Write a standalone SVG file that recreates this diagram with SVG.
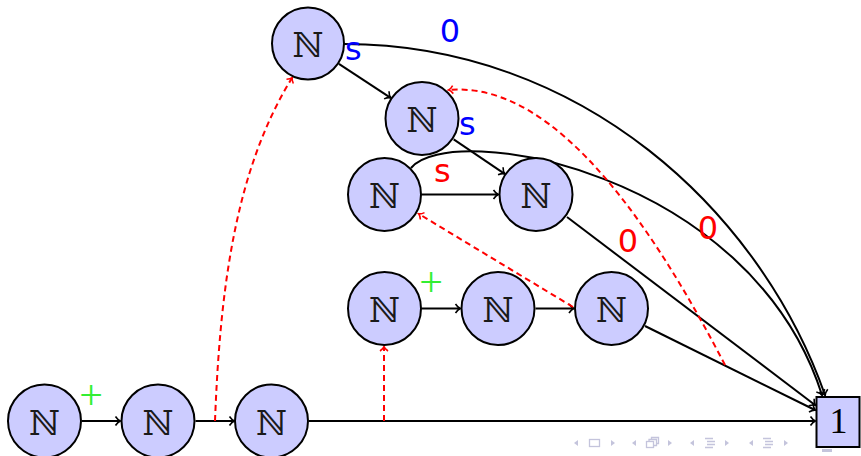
<svg xmlns="http://www.w3.org/2000/svg" width="861" height="456" viewBox="0 0 861 456">
<style>
.node{fill:#ccccff;stroke:#000;stroke-width:2}
.nt{font-family:"DejaVu Serif","DejaVu Sans",serif;font-size:34px;text-anchor:middle;fill:#1a1a1a}
.e{fill:none;stroke:#000;stroke-width:2}
.d{fill:none;stroke:#ff0000;stroke-width:2;stroke-dasharray:6 4}
.lab{font-family:"DejaVu Sans",sans-serif;font-size:32px}
.plus{font-family:"Liberation Serif",serif;font-size:42px;fill:#33ee33;text-anchor:middle}
.nav{fill:#c4c4dc;stroke:none}
.navs{fill:none;stroke:#c4c4dc;stroke-width:1.3}
</style>
<defs>
<marker id="ah" viewBox="-6 -6 8 12" refX="0" refY="0" markerWidth="8" markerHeight="12" markerUnits="userSpaceOnUse" orient="auto">
<path d="M-4.5,-4.5 C-2.5,-1.5 -0.5,-0.3 0.5,0 C-0.5,0.3 -2.5,1.5 -4.5,4.5" fill="none" stroke="#000" stroke-width="1.6"/>
</marker>
<marker id="ahr" viewBox="-6 -6 8 12" refX="0" refY="0" markerWidth="8" markerHeight="12" markerUnits="userSpaceOnUse" orient="auto">
<path d="M-4,-4 C-2.2,-1.3 -0.5,-0.3 0.5,0 C-0.5,0.3 -2.2,1.3 -4,4" fill="none" stroke="#ff0000" stroke-width="1.6"/>
</marker>
</defs>
<rect width="861" height="456" fill="#fff"/>
<g id="connectors">
<path class="e" d="M338.9,63.8 L390.3,97.6" marker-end="url(#ah)"/>
<path class="e" d="M453.7,139.4 L504.3,173.6" marker-end="url(#ah)"/>
<path class="e" d="M421.5,194.5 L498,194.5" marker-end="url(#ah)"/>
<path class="e" d="M421.5,308.5 L460,308.5" marker-end="url(#ah)"/>
<path class="e" d="M535.5,308.5 L573.5,308.5" marker-end="url(#ah)"/>
<path class="e" d="M82,421 L120,421" marker-end="url(#ah)"/>
<path class="e" d="M195.5,421 L234,421" marker-end="url(#ah)"/>
<path class="e" d="M309,421 L815,421" marker-end="url(#ah)"/>
<path class="e" d="M344,44 C580,44 760,210 825,395" marker-end="url(#ah)"/>
<path class="e" d="M411,168 C450,120 750,170 822,395" marker-end="url(#ah)"/>
<path class="e" d="M567,217 L815,405" marker-end="url(#ah)"/>
<path class="e" d="M645,326 L815,410" marker-end="url(#ah)"/>
<path class="d" d="M215,421 C220,290 235,170 292,78" marker-end="url(#ahr)"/>
<path class="d" d="M384,421 L384,347" marker-end="url(#ahr)"/>
<path class="d" d="M573,307 L419,214" marker-end="url(#ahr)"/>
<path class="d" d="M725,365 C660,240 560,80 449,90" marker-end="url(#ahr)"/>
</g>
<g id="nA"><circle class="node" cx="308" cy="43.5" r="36"/><text class="nt" x="308" y="57">ℕ</text></g>
<g id="nB"><circle class="node" cx="422" cy="118.5" r="36.5"/><text class="nt" x="422" y="132">ℕ</text></g>
<g id="nC"><circle class="node" cx="384.5" cy="194.5" r="36.5"/><text class="nt" x="384.5" y="208">ℕ</text></g>
<g id="nD"><circle class="node" cx="536" cy="194.5" r="36.5"/><text class="nt" x="536" y="208">ℕ</text></g>
<g id="nE"><circle class="node" cx="384.5" cy="308.5" r="36.5"/><text class="nt" x="384.5" y="322">ℕ</text></g>
<g id="nF"><circle class="node" cx="498" cy="308.5" r="36.5"/><text class="nt" x="498" y="322">ℕ</text></g>
<g id="nG"><circle class="node" cx="611.5" cy="308.5" r="36.5"/><text class="nt" x="611.5" y="322">ℕ</text></g>
<g id="nH"><circle class="node" cx="44.5" cy="421" r="36.5"/><text class="nt" x="44.5" y="434.5">ℕ</text></g>
<g id="nI"><circle class="node" cx="158" cy="421" r="36.5"/><text class="nt" x="158" y="434.5">ℕ</text></g>
<g id="nJ"><circle class="node" cx="271.5" cy="421" r="36.5"/><text class="nt" x="271.5" y="434.5">ℕ</text></g>
<g id="n1"><rect class="node" x="816.5" y="397" width="43" height="50"/><text x="838.5" y="433" style="font-family:'Liberation Serif',serif;font-size:36px;text-anchor:middle;fill:#000">1</text></g>
<g id="labels">
<text class="lab" x="345" y="60" fill="#0000ff">s</text>
<text class="lab" x="459" y="135" fill="#0000ff">s</text>
<text class="lab" x="450" y="42" fill="#0000ff" text-anchor="middle">0</text>
<text class="lab" x="434" y="182" fill="#ff0000">s</text>
<text class="lab" x="628" y="252" fill="#ff0000" text-anchor="middle">0</text>
<text class="lab" x="708" y="239" fill="#ff0000" text-anchor="middle">0</text>
<text class="plus" x="91" y="409">+</text>
<text class="plus" x="431" y="296">+</text>
</g>
<g id="navigation">
<path class="nav" d="M578,440 L574,443 L578,446 Z"/>
<rect class="navs" x="589.5" y="439.5" width="10" height="7"/>
<path class="nav" d="M611,440 L615,443 L611,446 Z"/>
<path class="nav" d="M636,440 L632,443 L636,446 Z"/>
<rect class="navs" x="646.5" y="441.5" width="7" height="6"/>
<path class="navs" d="M649,441.5 V439.5 H656.5 V445.5 H653.5 M651.5,439.5 V437.5 H658.5 V443.5 H656.5"/>
<path class="nav" d="M668,440 L672,443 L668,446 Z"/>
<path class="nav" d="M694,440 L690,443 L694,446 Z"/>
<path class="navs" d="M705,438.5 H713 M707,441.5 H715 M707,444.5 H715 M705,447.5 H713"/>
<path class="nav" d="M725,440 L729,443 L725,446 Z"/>
<path class="nav" d="M753,440 L749,443 L753,446 Z"/>
<path class="navs" d="M763,438.5 H771 M765,441.5 H773 M765,444.5 H773 M763,447.5 H771"/>
<path class="nav" d="M784,440 L788,443 L784,446 Z"/>
<rect class="nav" x="822" y="449" width="10" height="3"/>
</g>
</svg>
